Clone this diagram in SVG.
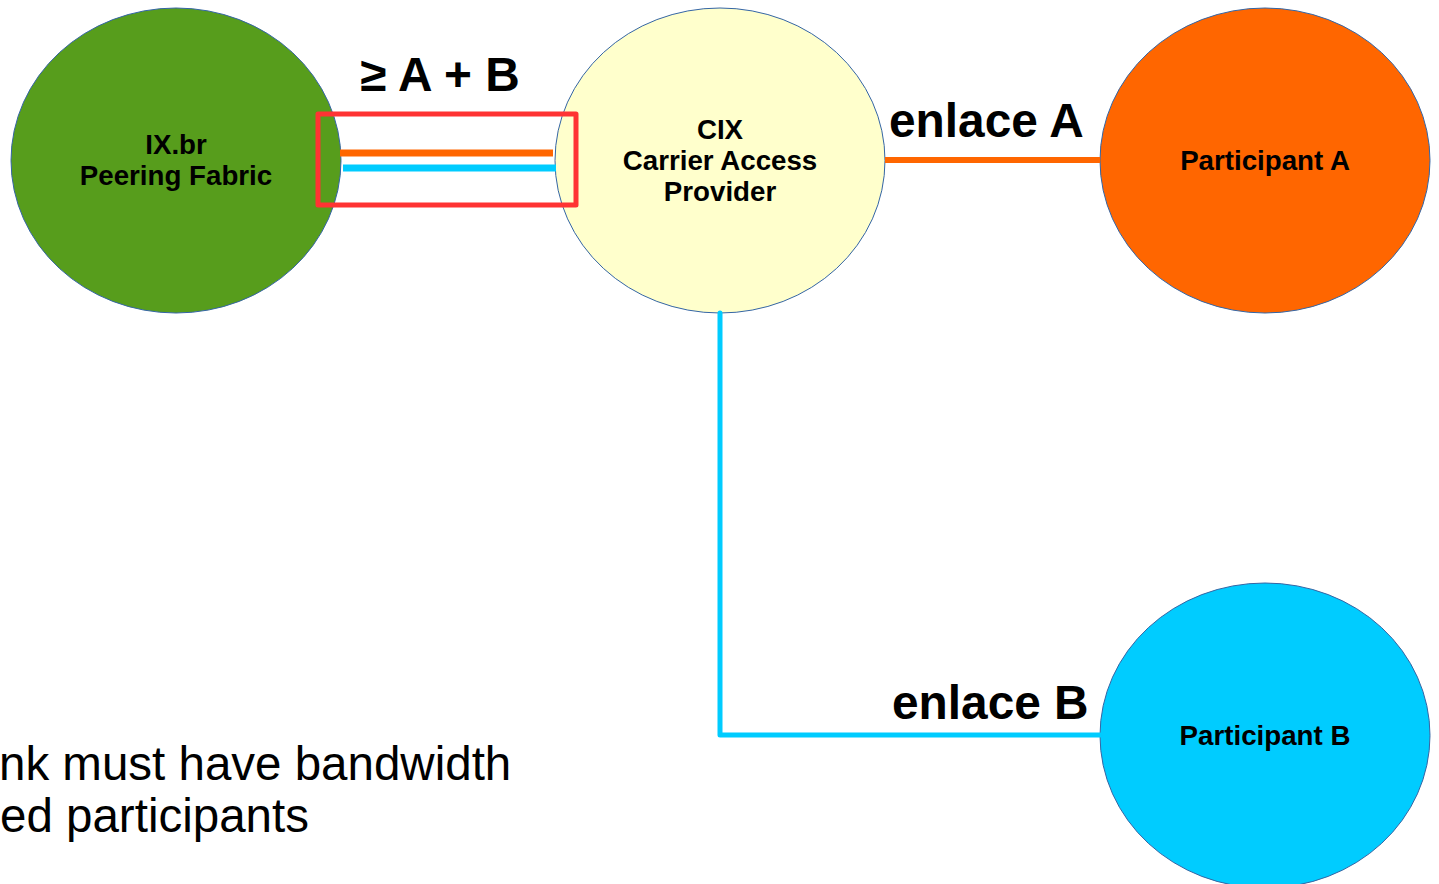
<svg xmlns="http://www.w3.org/2000/svg" width="1439" height="884" viewBox="0 0 1439 884">
<style>
.node{stroke:#3465a4;stroke-width:1}
.lbl{font-family:"Liberation Sans",Arial,sans-serif;font-weight:bold;font-size:27.7px;fill:#000;text-anchor:middle}
.big{font-family:"Liberation Sans",Arial,sans-serif;font-weight:bold;font-size:47.8px;fill:#000}
.note{font-family:"Liberation Sans",Arial,sans-serif;font-size:47.5px;fill:#000}
.or{stroke:#ff6600;stroke-width:6;fill:none}
.bl{stroke:#00ccff;stroke-width:6;fill:none;stroke-linejoin:round;stroke-linecap:round}
</style>
<rect width="1439" height="884" fill="#fff"/>
<g id="ixbr">
<ellipse class="node" cx="176" cy="160.5" rx="165" ry="152.5" fill="#579d1c"/>
<text class="lbl" x="176" y="154">IX.br</text>
<text class="lbl" x="176" y="185">Peering Fabric</text>
</g>
<g id="cix">
<ellipse class="node" cx="720" cy="160.5" rx="165" ry="152.5" fill="#ffffcc"/>
<text class="lbl" x="720" y="139">CIX</text>
<text class="lbl" x="720" y="170">Carrier Access</text>
<text class="lbl" x="720" y="201">Provider</text>
</g>
<g id="participantA">
<ellipse class="node" cx="1265" cy="160.5" rx="165" ry="152.5" fill="#ff6600"/>
<text class="lbl" x="1265" y="170">Participant A</text>
</g>
<g id="participantB">
<ellipse class="node" cx="1265" cy="735.5" rx="165" ry="152.5" fill="#00ccff"/>
<text class="lbl" x="1265" y="745">Participant B</text>
</g>
<g id="connectors">
<line class="or" x1="340" y1="153" x2="553" y2="153" style="stroke-width:7"/>
<line class="bl" x1="343" y1="168" x2="556" y2="168" style="stroke-linecap:butt;stroke-width:7"/>
<rect x="318" y="114" width="258" height="91" fill="none" stroke="#ff3333" stroke-width="5" stroke-linejoin="round"/>
<line class="or" x1="885" y1="160" x2="1100" y2="160"/>
<polyline class="bl" points="720,313 720,735 1100,735" style="stroke-width:5"/>
</g>
<g id="labels">
<text class="big" x="440" y="91" text-anchor="middle">≥ A + B</text>
<text class="big" x="889" y="137">enlace A</text>
<text class="big" x="892" y="719">enlace B</text>
<text class="note" x="-1" y="780">nk must have bandwidth</text>
<text class="note" x="0" y="832">ed participants</text>
</g>
</svg>
